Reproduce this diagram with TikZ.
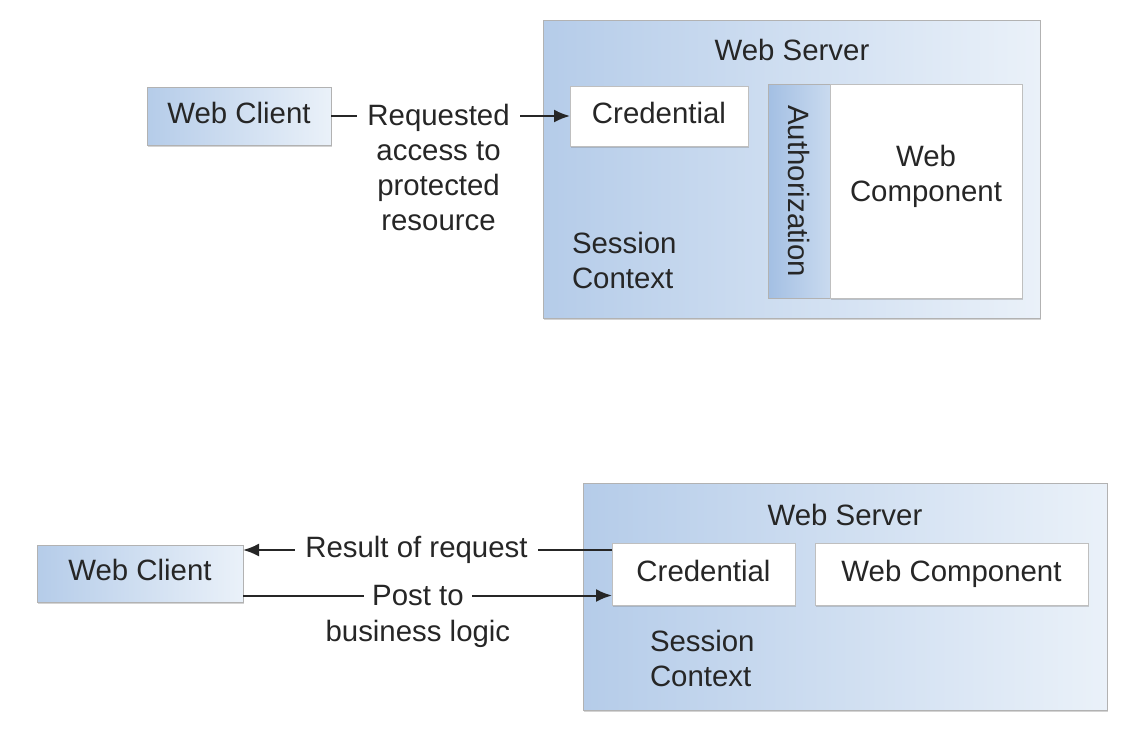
\documentclass[tikz,border=0pt]{standalone}
\usepackage{fontspec}
\setmainfont{Liberation Sans}
\usetikzlibrary{shadows, arrows.meta}
\definecolor{boxdark}{HTML}{B5CCE9}
\definecolor{boxlight}{HTML}{EAF1F9}
\definecolor{authdark}{HTML}{A3BFE3}
\definecolor{authlight}{HTML}{C9DAEF}
\definecolor{ink}{HTML}{262626}
\tikzset{
  bluebox/.style={draw=gray!60, line width=0.5pt, left color=boxdark, right color=boxlight,
    text height=0.72em, text depth=0pt,
    drop shadow={shadow xshift=0.5pt, shadow yshift=-1pt, opacity=0.35}},
  whitebox/.style={draw=gray!50, line width=0.5pt, fill=white,
    text height=0.72em, text depth=0pt,
    drop shadow={shadow xshift=0.5pt, shadow yshift=-1pt, opacity=0.35}},
  authbox/.style={draw=gray!60, line width=0.5pt, left color=authdark, right color=authlight},
  link/.style={draw=ink, line width=1pt, -{Latex[length=8pt, width=6.5pt]}}
}
\begin{document}
\begin{tikzpicture}[x=0.5pt, y=-0.5pt,
  every node/.style={text=ink, font=\fontsize{14.7}{17.5}\selectfont, inner sep=0pt, outer sep=0pt}]
\useasboundingbox (0,0) rectangle (1132,746);
% request
\node[bluebox, minimum width=248.5pt, minimum height=149pt] (server1) at (791.5,169) {};
\node (ws1) at (792,50) {Web Server};
\node[bluebox, minimum width=92pt, minimum height=29pt] (client1) at (239,116) {Web Client};
\node[whitebox, minimum width=89pt, minimum height=30pt] (cred1) at (659,116) {Credential};
\node[authbox, minimum width=31pt, minimum height=107pt] (auth) at (799,191) {};
\node[rotate=-90] (authtxt) at (auth) {Authorization};
\node[whitebox, minimum width=96pt, minimum height=107pt] (comp1) at (926,191) {};
\node[align=center] (comp1txt) at (926,176) {Web\\Component};
\node[align=left, anchor=west] (sess1) at (572,260) {Session\\Context};
\draw[link] (client1) -- node[fill=white, anchor=north, align=center, inner xsep=5pt, pos=0.45, yshift=6pt]
  {Requested\\access to\\protected\\resource} (cred1);
% result
\node[bluebox, minimum width=262pt, minimum height=113.5pt] (server2) at (845,596.5) {};
\node (ws2) at (845,515) {Web Server};
\node[bluebox, minimum width=103pt, minimum height=28.5pt] (client2) at (140,573.5) {Web Client};
\node[whitebox, minimum width=91.5pt, minimum height=31pt] (cred2) at (703.5,574) {Credential};
\node[whitebox, minimum width=136.5pt, minimum height=31pt] (comp2) at (951.5,574) {Web Component};
\node[align=left, anchor=west] (sess2) at (650,658) {Session\\Context};
\draw[link] ([yshift=12pt]cred2.west) -- node[fill=white, inner xsep=5pt, inner ysep=2pt, pos=0.53] (res) {Result of request}
  ([yshift=12pt]cred2.west -| client2.east);
\draw[link] ([yshift=-11pt]client2.east) -- node[fill=white, inner xsep=4pt, inner ysep=2pt, pos=0.474] (post) {Post to}
  ([yshift=-11pt]client2.east -| cred2.west);
\node (logic) at ([yshift=-19pt]post.center) {business logic};
\end{tikzpicture}
\end{document}
